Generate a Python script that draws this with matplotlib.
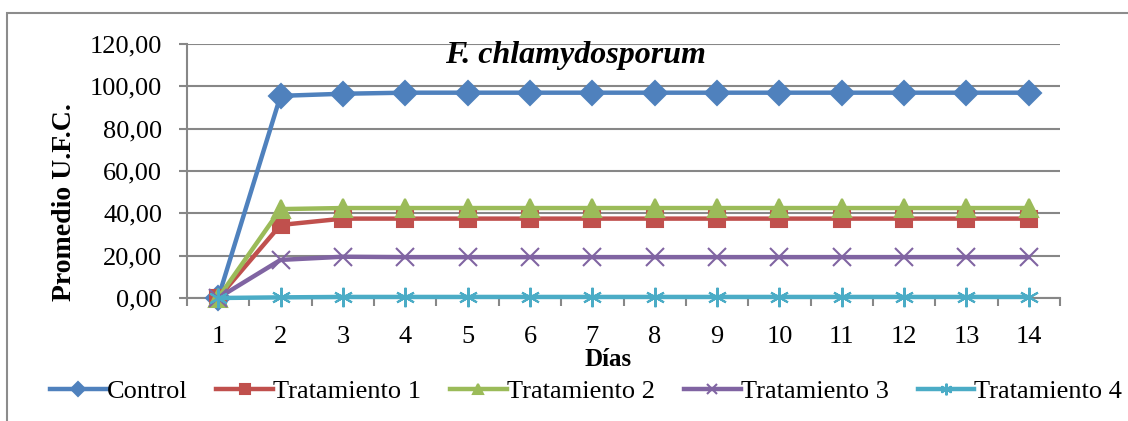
import matplotlib.pyplot as plt
from matplotlib.patches import Rectangle
from matplotlib.ticker import FuncFormatter, FixedLocator

plt.rcParams['font.family'] = ['Liberation Serif', 'DejaVu Serif']

dias = list(range(1, 15))
control = [0, 95.5, 96.5, 97.0, 97.0, 97.0, 97.0, 97.0, 97.0, 97.0, 97.0, 97.0, 97.0, 97.0]
trat1 = [0, 34.5, 37.5, 37.5, 37.5, 37.5, 37.5, 37.5, 37.5, 37.5, 37.5, 37.5, 37.5, 37.5]
trat2 = [0, 42.0, 42.5, 42.5, 42.5, 42.5, 42.5, 42.5, 42.5, 42.5, 42.5, 42.5, 42.5, 42.5]
trat3 = [0, 18.0, 19.5, 19.3, 19.3, 19.3, 19.3, 19.3, 19.3, 19.3, 19.3, 19.3, 19.3, 19.3]
trat4 = [0, 0.3, 0.5, 0.5, 0.5, 0.5, 0.5, 0.5, 0.5, 0.5, 0.5, 0.5, 0.5, 0.5]

series = [
    ("Control", control, "#4F81BD", "D", 12),
    ("Tratamiento 1", trat1, "#C0504D", "s", 11),
    ("Tratamiento 2", trat2, "#9BBB59", "^", 13),
    ("Tratamiento 3", trat3, "#8064A2", "x", 13),
    ("Tratamiento 4", trat4, "#4BACC6", (6, 2, 0), 14),
]

fig = plt.figure(figsize=(11.28, 4.21), dpi=100)
ax = fig.add_axes([187 / 1128, 1 - 298 / 421, 873 / 1128, 254 / 421])

grid_c = "#878787"
for name, vals, col, mk, ms in series:
    ax.plot(dias, vals, color=col, lw=3.2, marker=mk, ms=ms,
            mec=col, mfc=col, mew=1.5, label=name, zorder=3, clip_on=False)

ax.set_xlim(0.5, 14.5)
ax.set_ylim(0, 120)
ax.set_yticks(range(0, 121, 20))
ax.yaxis.set_major_formatter(FuncFormatter(lambda v, p: f"{v:.2f}".replace(".", ",")))
ax.set_xticks(dias)
ax.xaxis.set_minor_locator(FixedLocator([d + 0.5 for d in range(0, 15)]))
ax.tick_params(axis='x', which='major', length=0, labelsize=19, pad=20)
ax.tick_params(axis='x', which='minor', length=6, color=grid_c, width=1.5)
ax.tick_params(axis='y', length=6, color=grid_c, width=1.5, labelsize=19, pad=12)
ax.grid(axis='y', color=grid_c, lw=1.5)
ax.set_axisbelow(True)
for s in ["top", "right"]:
    ax.spines[s].set_visible(False)
for s in ["left", "bottom"]:
    ax.spines[s].set_color(grid_c)
    ax.spines[s].set_linewidth(1.5)

# axis titles placed by hand, Excel-style
fig.text(608 / 1128, 1 - 360 / 421, "Días", ha='center', va='center',
         fontsize=18, fontweight='bold')
ax.set_ylabel("Promedio U.F.C.", fontsize=20, fontweight='bold')
ax.yaxis.set_label_coords((77 - 187) / 873, (298 - 202) / 254)
ax.text(0.445, 0.955, "F. chlamydosporum", transform=ax.transAxes, ha='center',
        va='center', fontsize=23, fontweight='bold', fontstyle='italic')

fig.legend(loc='center', bbox_to_anchor=(586 / 1128, 1 - 391 / 421), ncol=5, frameon=False,
           fontsize=19, handlelength=2.15, handletextpad=0.0, columnspacing=1.1,
           markerscale=0.6)

fig.patches.append(Rectangle((7 / 1128, -0.1), 1.2, 1.1 - 13 / 421,
                             transform=fig.transFigure, fill=False,
                             edgecolor="#8c8c8c", lw=1.5))

fig.savefig("out.png", dpi=100)
